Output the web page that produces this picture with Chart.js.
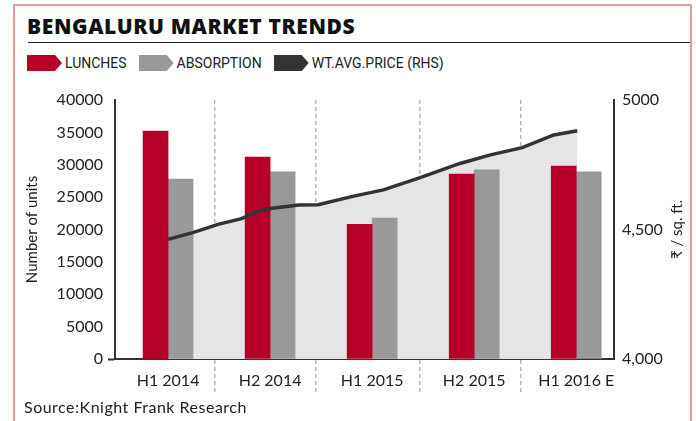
<!DOCTYPE html>
<html><head><meta charset="utf-8">
<script src="https://cdn.jsdelivr.net/npm/chart.js@4.4.0/dist/chart.umd.min.js"></script>
<style>
html,body{margin:0;padding:0;background:#fff;width:696px;height:421px;overflow:hidden;font-family:Lato,sans-serif;}
#frame{position:absolute;left:13px;top:4px;width:679px;height:440px;border:2px solid #e8999d;border-bottom:none;box-sizing:border-box;}
#title{position:absolute;left:27px;top:11px;font:800 21px "Open Sans";color:#111;line-height:30px;white-space:nowrap;letter-spacing:0.6px}
#rule{position:absolute;left:28px;top:42px;width:662px;height:0;border-top:1.5px solid #222;}
#legend{position:absolute;left:27px;top:55px;display:flex;align-items:center;height:16px;font:14px Roboto;color:#222;white-space:nowrap}
.item{display:flex;align-items:center;margin-right:12px}
.mk{width:35px;height:16px;clip-path:polygon(0 0,80% 0,100% 50%,80% 100%,0 100%);margin-right:3px}
#source{position:absolute;left:24px;top:397px;font:16px Lato;color:#222;white-space:nowrap;letter-spacing:0.5px}
#wrap{position:absolute;left:0;top:80px;width:696px;height:320px}
</style></head>
<body>
<div id="frame"></div>
<div id="title">BENGALURU MARKET TRENDS</div>
<div id="rule"></div>
<div id="legend"></div>
<div id="wrap"><canvas id="c" width="696" height="320"></canvas></div>
<div id="source">Source:Knight Frank Research</div>
<script>
// ---- data ----
const categories = ['H1 2014', 'H2 2014', 'H1 2015', 'H2 2015', 'H1 2016 E'];
const launches   = [35200, 31200, 20800, 28550, 29800];
const absorption = [27800, 28900, 21750, 29200, 28900];
const pricePeriod = [0, 0.25, 0.49, 0.72, 0.885, 1.02, 1.28, 1.47, 1.82, 2.11, 2.47, 2.86, 3.16, 3.47, 3.78, 4.01];
const priceValues = [4462, 4489, 4520, 4542, 4571, 4582, 4595, 4596, 4629, 4653, 4700, 4755, 4788, 4816, 4865, 4881];
const periodDividers = [0.46, 1.45, 2.47, 3.46];
const priceTicks = [4000, 4500, 5000];
const priceTickLabels = ['4,000', '4,500', '5000'];
const seriesNames = ['LUNCHES', 'ABSORPTION', 'WT.AVG.PRICE (RHS)'];
const seriesColors = ['#b70027', '#999999', '#333333'];

const FONT = 'Lato';
const TXT = '#222';

const rightTitle = {
  id: 'rightTitle',
  afterDraw(chart) {
    const {ctx, chartArea} = chart;
    const s = chart.scales.y1;
    ctx.save();
    ctx.translate(s.right - 19, (chartArea.top + chartArea.bottom) / 2);
    ctx.rotate(-Math.PI / 2);
    ctx.font = '15px Lato, "DejaVu Sans"';
    ctx.fillStyle = TXT;
    ctx.textAlign = 'center';
    ctx.textBaseline = 'middle';
    ctx.fillText('₹ / sq. ft.', 0, 0);
    ctx.restore();
  }
};

const chart = new Chart(document.getElementById('c'), {
  data: {
    datasets: [
      {type: 'bar', label: seriesNames[0], data: launches.map((v, i) => ({x: i, y: v})),
       backgroundColor: seriesColors[0], yAxisID: 'y', order: 1, barThickness: 25},
      {type: 'bar', label: seriesNames[1], data: absorption.map((v, i) => ({x: i, y: v})),
       backgroundColor: seriesColors[1], yAxisID: 'y', order: 1, barThickness: 25},
      {type: 'line', label: seriesNames[2], data: pricePeriod.map((x, i) => ({x: x, y: priceValues[i]})),
       borderColor: seriesColors[2], borderWidth: 3.5, pointRadius: 0, tension: 0,
       fill: 'start', backgroundColor: '#e5e5e5', yAxisID: 'y1', order: 0}
    ]
  },
  options: {
    responsive: false,
    animation: false,
    devicePixelRatio: 1,
    layout: {padding: {top: 20, bottom: 11, left: 0, right: 0}},
    plugins: {
      legend: {display: false},
      tooltip: {enabled: false},
      filler: {drawTime: 'beforeDatasetsDraw'}
    },
    scales: {
      x: {
        type: 'linear', min: -0.52, max: 4.37, offset: false,
        afterBuildTicks: s => {
          const vals = categories.map((c, i) => i).concat(periodDividers).sort((a, b) => a - b);
          s.ticks = vals.map(v => ({value: v}));
        },
        ticks: {
          autoSkip: false, maxRotation: 0, padding: -21,
          font: {family: FONT, size: 16}, color: TXT,
          callback: v => Number.isInteger(v) ? categories[v] : ''
        },
        grid: {
          offset: false,
          color: c => (c.tick && !Number.isInteger(c.tick.value)) ? '#b8b8b8' : 'rgba(0,0,0,0)',
          lineWidth: 1.5, tickLength: 33, borderDash: [4, 3], tickBorderDash: [4, 3]
        },
        border: {display: true, color: '#333', width: 2, dash: [4, 3]},
        afterFit: s => { s.height = 30; }
      },
      y: {
        position: 'left', min: 0, max: 40000,
        ticks: {stepSize: 5000, padding: 5, font: {family: FONT, size: 16}, color: TXT,
                callback: v => String(v)},
        grid: {display: true, drawOnChartArea: false, drawTicks: true, tickLength: 7, tickWidth: 2,
               tickColor: c => (c.tick && c.tick.value === 0) ? '#333' : 'rgba(0,0,0,0)'},
        border: {display: true, color: '#333', width: 2},
        title: {display: true, text: 'Number of units', font: {family: FONT, size: 15}, color: TXT,
                padding: {top: 23, bottom: 0}},
        afterFit: s => { s.width = 115; }
      },
      y1: {
        position: 'right', min: 4000, max: 5000,
        afterBuildTicks: s => { s.ticks = priceTicks.map(v => ({value: v})); },
        ticks: {padding: 8, font: {family: FONT, size: 16}, color: TXT,
                callback: v => priceTickLabels[priceTicks.indexOf(v)]},
        grid: {display: false, drawTicks: false},
        border: {display: true, color: '#333', width: 2},
        afterFit: s => { s.width = 82; }
      }
    }
  },
  plugins: [rightTitle]
});

// HTML legend built from the chart's datasets
const leg = document.getElementById('legend');
chart.data.datasets.forEach(ds => {
  const it = document.createElement('div'); it.className = 'item';
  const mk = document.createElement('div'); mk.className = 'mk';
  mk.style.background = ds.type === 'line' ? ds.borderColor : ds.backgroundColor;
  const tx = document.createElement('span'); tx.textContent = ds.label;
  it.appendChild(mk); it.appendChild(tx); leg.appendChild(it);
});
</script>
</body></html>
